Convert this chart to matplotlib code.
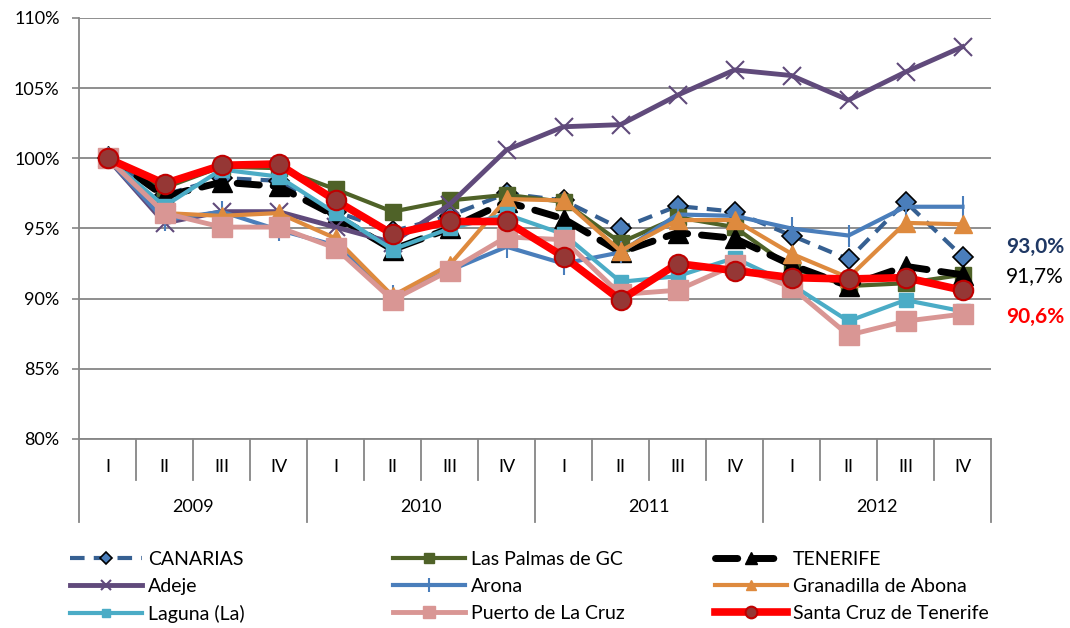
import matplotlib
matplotlib.use('Agg')
import matplotlib.pyplot as plt
from matplotlib.ticker import FuncFormatter

plt.rcParams['font.family'] = ['Lato', 'DejaVu Sans']
FS = 13
LFS = 14

quarters = ['I', 'II', 'III', 'IV'] * 4
years = ['2009', '2010', '2011', '2012']

canarias   = [100.0, 97.4, 98.6, 98.4, 96.2, 94.8, 95.9, 97.5, 97.0, 95.0, 96.6, 96.2, 94.5, 92.8, 96.9, 93.0]
laspalmas  = [100.0, 97.9, 99.4, 99.3, 97.8, 96.2, 97.0, 97.4, 96.9, 94.0, 95.8, 95.1, 92.2, 90.9, 91.1, 91.7]
tenerife   = [100.2, 97.3, 98.3, 98.0, 95.9, 93.5, 95.0, 96.9, 95.7, 93.3, 94.7, 94.3, 92.4, 90.9, 92.3, 91.7]
adeje      = [100.0, 95.4, 96.2, 96.2, 95.1, 94.0, 96.7, 100.6, 102.25, 102.4, 104.5, 106.3, 105.9, 104.15, 106.15, 107.95]
arona      = [100.0, 95.6, 96.2, 94.9, 93.8, 90.2, 92.0, 93.7, 92.5, 93.3, 96.0, 95.9, 95.0, 94.5, 96.55, 96.55]
granadilla = [100.0, 96.1, 95.9, 96.1, 94.3, 90.2, 92.4, 97.1, 97.0, 93.4, 95.6, 95.6, 93.2, 91.5, 95.4, 95.3]
laguna     = [100.0, 96.6, 99.2, 98.7, 96.1, 93.5, 95.0, 96.0, 94.6, 91.2, 91.6, 92.9, 91.0, 88.4, 89.9, 89.1]
puerto     = [100.0, 96.1, 95.1, 95.1, 93.6, 89.9, 92.0, 94.4, 94.2, 90.3, 90.6, 92.4, 90.8, 87.4, 88.4, 88.9]
santacruz  = [100.0, 98.2, 99.5, 99.6, 97.0, 94.6, 95.5, 95.5, 93.0, 89.9, 92.5, 92.0, 91.5, 91.4, 91.5, 90.6]

x = list(range(len(quarters)))
grey = '#868686'

fig = plt.figure(figsize=(10.7, 6.28), dpi=100)
ax = fig.add_axes([79/1070, 1-439/628, 912/1070, 421/628])

l_can, = ax.plot(x, canarias, color='#366092', lw=3, dashes=(3.5, 2.2), marker='D', ms=10,
                 mfc='#4A7EBB', mec='black', mew=1.2, label='CANARIAS', zorder=3)
l_lp, = ax.plot(x, laspalmas, color='#4F6228', lw=3, marker='s', ms=12, label='Las Palmas de GC', zorder=3)
l_ten, = ax.plot(x, tenerife, color='black', lw=5, dashes=(3.2, 2.0), dash_capstyle='round',
                 marker='^', ms=14, label='TENERIFE', zorder=3)
l_ad, = ax.plot(x, adeje, color='#604A7B', lw=3.5, marker='x', ms=13, mew=1.5, label='Adeje', zorder=3)
l_ar, = ax.plot(x, arona, color='#4A7EBB', lw=3, marker='|', ms=16, mew=1.5, label='Arona', zorder=3)
l_gr, = ax.plot(x, granadilla, color='#DE8A3E', lw=3, marker='^', ms=13, label='Granadilla de Abona', zorder=3)
l_lag, = ax.plot(x, laguna, color='#4BACC6', lw=3, marker='s', ms=10, label='Laguna (La)', zorder=3)
l_pu, = ax.plot(x, puerto, color='#D99694', lw=3.5, marker='s', ms=14, label='Puerto de La Cruz', zorder=3)
l_sc, = ax.plot(x, santacruz, color='#FF0000', lw=5.5, marker='o', ms=14, mfc='#953735',
                mec='#C00000', mew=1.5, label='Santa Cruz de Tenerife', zorder=4)

ax.set_xlim(-0.5, 15.5)
ax.set_ylim(80, 110)
ax.set_yticks(range(80, 111, 5))
ax.yaxis.set_major_formatter(FuncFormatter(lambda v, p: f'{v:.0f}%'))
ax.tick_params(axis='y', length=5, width=1.2, color=grey, labelsize=FS, pad=9)
ax.set_xticks([])
ax.grid(axis='y', color=grey, lw=1.3, zorder=0)
for s in ['top', 'right']:
    ax.spines[s].set_visible(False)
for s in ['left', 'bottom']:
    ax.spines[s].set_color(grey)
    ax.spines[s].set_linewidth(1.3)

# two-level category axis
tr = ax.get_xaxis_transform()
for i in range(17):
    bottom = -0.197 if i % 4 == 0 else -0.0974
    ax.plot([i - 0.5, i - 0.5], [0, bottom], color=grey, lw=1.3, transform=tr, clip_on=False)
for i, q in enumerate(quarters):
    ax.text(i, -28/421, q, transform=tr, ha='center', va='center', fontsize=FS)
for j, yr in enumerate(years):
    ax.text(4*j + 1.5, -68/421, yr, transform=tr, ha='center', va='center', fontsize=FS)

# end labels
ax.annotate(f'{canarias[-1]:.1f}%'.replace('.', ','), xy=(15, canarias[-1]), xytext=(73, 7),
            textcoords='offset points', ha='right', va='center', fontsize=15,
            fontweight='bold', color='#1F3864', annotation_clip=False)
ax.annotate(f'{tenerife[-1]:.1f}%'.replace('.', ','), xy=(15, tenerife[-1]), xytext=(73, -1),
            textcoords='offset points', ha='right', va='center', fontsize=15,
            color='black', annotation_clip=False)
ax.annotate(f'{santacruz[-1]:.1f}%'.replace('.', ','), xy=(15, santacruz[-1]), xytext=(73, -19),
            textcoords='offset points', ha='right', va='center', fontsize=15,
            fontweight='bold', color='#FF0000', annotation_clip=False)

# legend in three fixed columns
cols = [([l_can, l_ad, l_lag], 70), ([l_lp, l_ar, l_pu], 393), ([l_ten, l_gr, l_sc], 715)]
for handles, xpx in cols:
    leg = fig.legend(handles=handles, loc='upper left', bbox_to_anchor=(xpx/1070, 1-551/628),
                     frameon=False, fontsize=LFS, handlelength=3.7, handletextpad=0.3,
                     labelspacing=0.52, borderpad=0, borderaxespad=0, numpoints=1,
                     markerscale=0.6)

fig.savefig('out.png', dpi=100)
